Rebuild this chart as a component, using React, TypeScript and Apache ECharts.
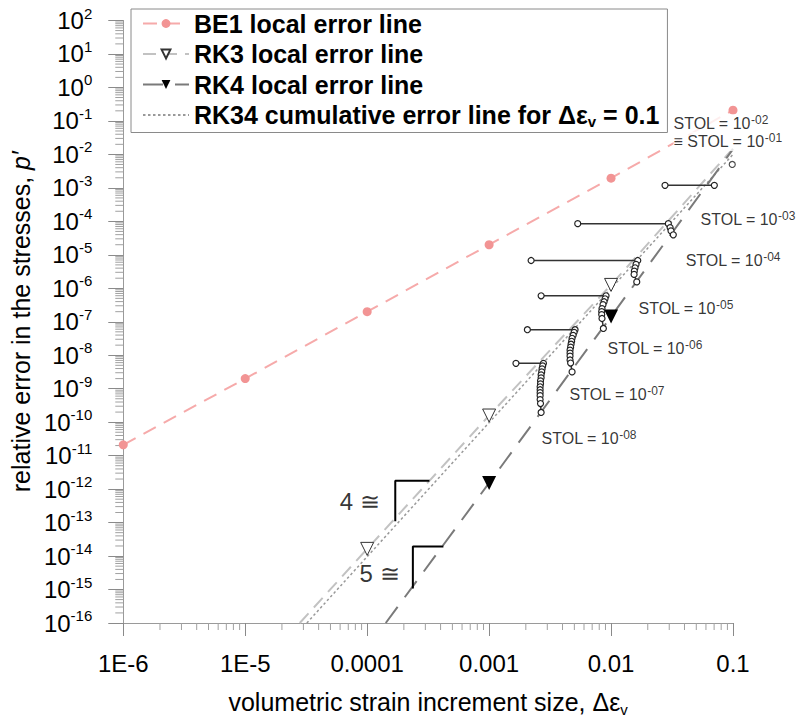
import React, { useEffect, useRef } from 'react';
import * as echarts from 'echarts';

const FONT = '"Liberation Sans", Arial, Helvetica, sans-serif';

// ---- axes ----
const xMin = 1e-6;
const xMax = 0.1;
const yMin = 1e-16;
const yMax = 100;
const xTickLabels = ['1E-6', '1E-5', '0.0001', '0.001', '0.01', '0.1'];
const xDecades = [-6, -5, -4, -3, -2];
const yDecades = [-16, -15, -14, -13, -12, -11, -10, -9, -8, -7, -6, -5, -4, -3, -2, -1, 0, 1];
const minorMultipliers = [2, 3, 4, 5, 6, 7, 8, 9];

// ---- error lines ----
const be1Name = 'BE1 local error line';
const be1Sizes = [1e-6, 1e-5, 1e-4, 1e-3, 1e-2, 1e-1];
const be1Errors = [2.1e-11, 2e-9, 2e-7, 2e-5, 1.95e-3, 2.1e-1];

const rk3Name = 'RK3 local error line';
const rk3Sizes = [2.8e-5, 1e-4, 1e-3, 1e-2, 1e-1];
const rk3Errors = [1e-16, 1.64e-14, 1.58e-10, 1.26e-6, 1.5e-2];
const rk3Marked = [false, true, true, true, false];

const rk4Name = 'RK4 local error line';
const rk4Sizes = [1.42e-4, 1e-3, 1e-2, 1e-1];
const rk4Errors = [1e-16, 1.53e-12, 1.43e-7, 1.43e-2];
const rk4Marked = [false, true, true, false];

const rk34Name = 'RK34 cumulative error line for Δεv = 0.1';
const rk34Sizes = [3.2e-5, 1e-1];
const rk34Errors = [1e-16, 1e-2];

// ---- STOL substep results ----
const stol1Sizes = [0.0986];
const stol1Errors = [5.0e-3];
const stol2Sizes = [0.0277, 0.0703];
const stol2Errors = [1.19e-3, 1.19e-3];
const stol3Sizes = [5.33e-3, 0.0295, 0.0305, 0.031, 0.0324];
const stol3Errors = [8.5e-5, 8.5e-5, 6.5e-5, 5.2e-5, 3.96e-5];
const stol4Sizes = [2.21e-3, 0.01656, 0.01603, 0.01574, 0.01552, 0.01545, 0.01625];
const stol4Errors = [6.76e-6, 6.76e-6, 5.15e-6, 4.1e-6, 3.27e-6, 2.6e-6, 1.55e-6];
const stol5Sizes = [2.67e-3, 9.1e-3, 8.93e-3, 8.77e-3, 8.59e-3, 8.43e-3, 8.38e-3, 8.38e-3, 8.43e-3, 8.65e-3];
const stol5Errors = [5.97e-7, 5.97e-7, 4.86e-7, 3.96e-7, 3.24e-7, 2.47e-7, 2.01e-7, 1.64e-7, 1.25e-7, 6.3e-8];
const stol6Sizes = [2.06e-3, 5.07e-3, 4.98e-3, 4.89e-3, 4.79e-3, 4.75e-3, 4.7e-3, 4.66e-3, 4.61e-3, 4.61e-3, 4.61e-3, 4.61e-3, 4.66e-3, 4.79e-3];
const stol6Errors = [5.78e-8, 5.78e-8, 4.82e-8, 3.93e-8, 3.21e-8, 2.61e-8, 2.13e-8, 1.74e-8, 1.42e-8, 1.16e-8, 9.4e-9, 7.2e-9, 5.85e-9, 3.17e-9];
const stol7Sizes = [1.66e-3, 2.79e-3, 2.75e-3, 2.72e-3, 2.7e-3, 2.67e-3, 2.67e-3, 2.64e-3, 2.64e-3, 2.62e-3, 2.62e-3, 2.62e-3, 2.62e-3, 2.62e-3, 2.64e-3, 2.67e-3];
const stol7Errors = [5.73e-9, 5.73e-9, 4.78e-9, 3.89e-9, 3.17e-9, 2.59e-9, 2.11e-9, 1.72e-9, 1.4e-9, 1.14e-9, 9.3e-10, 7.6e-10, 6.2e-10, 4.73e-10, 3.6e-10, 1.95e-10];

// ---- STOL annotations ----
const stolLabelSizes = [0.0322, 0.0322, 0.0537, 0.0405, 0.01663, 9.27e-3, 4.53e-3, 2.67e-3];
const stolLabelErrors = [0.082, 0.0242, 1.12e-4, 6.9e-6, 2.47e-7, 1.62e-8, 6.64e-10, 3.34e-11];
const stolLabelPrefixes = ['', '≡ ', '', '', '', '', '', ''];
const stolLabelExponents = ['-02', '-01', '-03', '-04', '-05', '-06', '-07', '-08'];

// ---- slope indicators ----
const slope4Sizes = [1.7e-4, 1.7e-4, 3.24e-4];
const slope4Errors = [1.1e-13, 1.79e-12, 1.79e-12];
const slope5Sizes = [2.37e-4, 2.37e-4, 4.22e-4];
const slope5Errors = [1.08e-15, 1.92e-14, 1.92e-14];
const slopeLabelSizes = [1.28e-4, 1.86e-4];
const slopeLabelErrors = [4.3e-13, 3.0e-15];
const slopeLabelTexts = ['4 ≅', '5 ≅'];

const pairs = (xs: number[], ys: number[]) => xs.map((x, i) => [x, ys[i]]);

function buildOption(): any {
  const minorTicks: number[][] = [];
  xDecades.forEach((d) => minorMultipliers.forEach((m) => minorTicks.push([m * Math.pow(10, d), yMin, 0])));
  yDecades.forEach((d) => minorMultipliers.forEach((m) => minorTicks.push([xMin, m * Math.pow(10, d), 1])));

  const circleStyle = {
    symbol: 'circle',
    symbolSize: 6,
    itemStyle: { color: '#ffffff', borderColor: '#222222', borderWidth: 1.2 },
  };
  const stolGroups = [
    pairs(stol2Sizes, stol2Errors),
    pairs(stol3Sizes, stol3Errors),
    pairs(stol4Sizes, stol4Errors),
    pairs(stol5Sizes, stol5Errors),
    pairs(stol6Sizes, stol6Errors),
    pairs(stol7Sizes, stol7Errors),
  ];

  const series: any[] = [
    {
      type: 'custom',
      name: 'minorTicks',
      silent: true,
      clip: false,
      z: 1,
      data: minorTicks,
      renderItem: (params: any, api: any) => {
        const p = api.coord([api.value(0), api.value(1)]);
        const horiz = api.value(2) === 1;
        return {
          type: 'line',
          shape: horiz
            ? { x1: p[0] - 8, y1: p[1], x2: p[0], y2: p[1] }
            : { x1: p[0], y1: p[1], x2: p[0], y2: p[1] + 7 },
          style: { stroke: '#a0a0a0', lineWidth: 1 },
        };
      },
    },
    {
      name: rk34Name,
      type: 'line',
      data: pairs(rk34Sizes, rk34Errors),
      symbol: 'none',
      itemStyle: { color: 'rgba(0,0,0,0)', borderWidth: 0 },
      lineStyle: { color: '#999999', width: 1.5, type: [2.5, 2.5] },
      z: 2,
    },
    {
      name: rk3Name,
      type: 'line',
      data: pairs(rk3Sizes, rk3Errors).map((v, i) => (rk3Marked[i] ? { value: v } : { value: v, symbol: 'none' })),
      symbol: 'triangle',
      symbolRotate: 180,
      symbolSize: 13,
      itemStyle: { color: '#ffffff', borderColor: '#333333', borderWidth: 1 },
      lineStyle: { color: '#c2c2c2', width: 2, type: [13, 8] },
      z: 3,
    },
    {
      name: rk4Name,
      type: 'line',
      data: pairs(rk4Sizes, rk4Errors).map((v, i) => (rk4Marked[i] ? { value: v } : { value: v, symbol: 'none' })),
      symbol: 'triangle',
      symbolRotate: 180,
      symbolSize: 14,
      itemStyle: { color: '#000000' },
      lineStyle: { color: '#7a7a7a', width: 2, type: [20, 12] },
      z: 3,
    },
    {
      name: be1Name,
      type: 'line',
      data: pairs(be1Sizes, be1Errors),
      symbol: 'circle',
      symbolSize: 9,
      itemStyle: { color: '#f29494' },
      lineStyle: { color: '#f6aaaa', width: 2, type: [14, 9] },
      z: 3,
    },
    ...stolGroups.map((g, i) => ({
      name: 'STOL group ' + (i + 2),
      type: 'line',
      data: g,
      showAllSymbol: true,
      ...circleStyle,
      lineStyle: { color: '#333333', width: 1.5 },
      z: 4,
    })),
    {
      name: 'STOL single step',
      type: 'scatter',
      data: pairs(stol1Sizes, stol1Errors),
      ...circleStyle,
      z: 4,
    },
    {
      name: 'slope 4',
      type: 'line',
      data: pairs(slope4Sizes, slope4Errors),
      symbol: 'none',
      lineStyle: { color: '#000000', width: 2 },
      z: 4,
    },
    {
      name: 'slope 5',
      type: 'line',
      data: pairs(slope5Sizes, slope5Errors),
      symbol: 'none',
      lineStyle: { color: '#000000', width: 2 },
      z: 4,
    },
    {
      name: 'STOL labels',
      type: 'scatter',
      silent: true,
      symbolSize: 1,
      itemStyle: { color: 'transparent' },
      z: 6,
      data: stolLabelSizes.map((x, i) => ({
        value: [x, stolLabelErrors[i]],
        label: {
          show: true,
          position: 'right',
          distance: 0,
          formatter: `{a|${stolLabelPrefixes[i]}STOL = 10}{s|${stolLabelExponents[i]}}`,
          backgroundColor: '#ffffff',
          padding: [0, 1, 0, 0],
          rich: {
            a: { fontFamily: FONT, fontSize: 16, color: '#000000', lineHeight: 19 },
            s: { fontFamily: FONT, fontSize: 12, color: '#000000', lineHeight: 13, verticalAlign: 'top' },
          },
        },
      })),
    },
    {
      name: 'slope labels',
      type: 'scatter',
      silent: true,
      symbolSize: 1,
      itemStyle: { color: 'transparent' },
      z: 6,
      data: slopeLabelSizes.map((x, i) => ({
        value: [x, slopeLabelErrors[i]],
        label: {
          show: true,
          position: 'left',
          distance: 0,
          formatter: slopeLabelTexts[i],
          fontFamily: FONT,
          fontSize: 24,
          color: '#000000',
        },
      })),
    },
  ];

  return {
    animation: false,
    backgroundColor: '#ffffff',
    textStyle: { fontFamily: FONT },
    grid: { left: 123, right: 65, top: 20.5, bottom: 92 },
    legend: {
      orient: 'vertical',
      left: 131,
      top: 9,
      padding: [1, 8, 4, 11],
      itemGap: 3.5,
      itemWidth: 46,
      itemHeight: 11,
      backgroundColor: '#ffffff',
      borderColor: '#8a8a8a',
      borderWidth: 1,
      borderRadius: 0,
      data: [be1Name, rk3Name, rk4Name, rk34Name],
      formatter: (name: string) =>
        name === rk34Name ? '{n|RK34 cumulative error line for Δε}{sub|v}{n| = 0.1}' : '{n|' + name + '}',
      textStyle: {
        fontFamily: FONT,
        fontSize: 25,
        fontWeight: 'bold',
        color: '#000000',
        lineHeight: 27,
        rich: {
          n: { fontFamily: FONT, fontSize: 25, fontWeight: 'bold', color: '#000000', lineHeight: 27 },
          sub: { fontFamily: FONT, fontSize: 15, fontWeight: 'bold', color: '#000000', lineHeight: 14, verticalAlign: 'bottom' },
        },
      },
    },
    xAxis: {
      type: 'log',
      logBase: 10,
      min: xMin,
      max: xMax,
      interval: 1,
      axisLine: { show: true, lineStyle: { color: '#9a9a9a', width: 1 } },
      axisTick: { show: true, length: 13, lineStyle: { color: '#8a8a8a', width: 1 } },
      splitLine: { show: false },
      axisLabel: {
        margin: 28,
        fontFamily: FONT,
        fontSize: 24,
        color: '#000000',
        formatter: (v: number) => xTickLabels[Math.round(Math.log10(v)) + 6],
      },
      name: '{n|volumetric strain increment size, Δε}{sub|v}',
      nameLocation: 'middle',
      nameGap: 64,
      nameTextStyle: {
        fontFamily: FONT,
        fontSize: 25,
        color: '#000000',
        rich: {
          n: { fontFamily: FONT, fontSize: 25, color: '#000000', lineHeight: 30 },
          sub: { fontFamily: FONT, fontSize: 15, color: '#000000', lineHeight: 14, verticalAlign: 'bottom' },
        },
      },
    },
    yAxis: {
      type: 'log',
      logBase: 10,
      min: yMin,
      max: yMax,
      interval: 1,
      axisLine: { show: true, lineStyle: { color: '#9a9a9a', width: 1 } },
      axisTick: { show: true, length: 15, lineStyle: { color: '#8a8a8a', width: 1 } },
      splitLine: { show: false },
      axisLabel: {
        margin: 31,
        formatter: (v: number) => `{b|10}{s|${Math.round(Math.log10(v))}}`,
        rich: {
          b: { fontFamily: FONT, fontSize: 24, color: '#000000', lineHeight: 30 },
          s: { fontFamily: FONT, fontSize: 15, color: '#000000', lineHeight: 17, verticalAlign: 'top' },
        },
      },
      name: '{n|relative error in the stresses, }{i|p′}',
      nameLocation: 'middle',
      nameRotate: 90,
      nameGap: 83,
      nameTextStyle: {
        fontFamily: FONT,
        fontSize: 25,
        color: '#000000',
        rich: {
          n: { fontFamily: FONT, fontSize: 25, color: '#000000', lineHeight: 30 },
          i: { fontFamily: FONT, fontSize: 25, fontStyle: 'italic', color: '#000000', lineHeight: 30 },
        },
      },
    },
    series,
  };
}

export default function App() {
  const ref = useRef<HTMLDivElement>(null);
  useEffect(() => {
    if (!ref.current) return;
    const chart = echarts.init(ref.current, null, { renderer: 'svg' });
    chart.setOption(buildOption());
    return () => {
      chart.dispose();
    };
  }, []);
  return (
    <div
      ref={ref}
      style={{ position: 'absolute', left: 0, top: 0, width: 798, height: 722, background: '#ffffff' }}
    />
  );
}
